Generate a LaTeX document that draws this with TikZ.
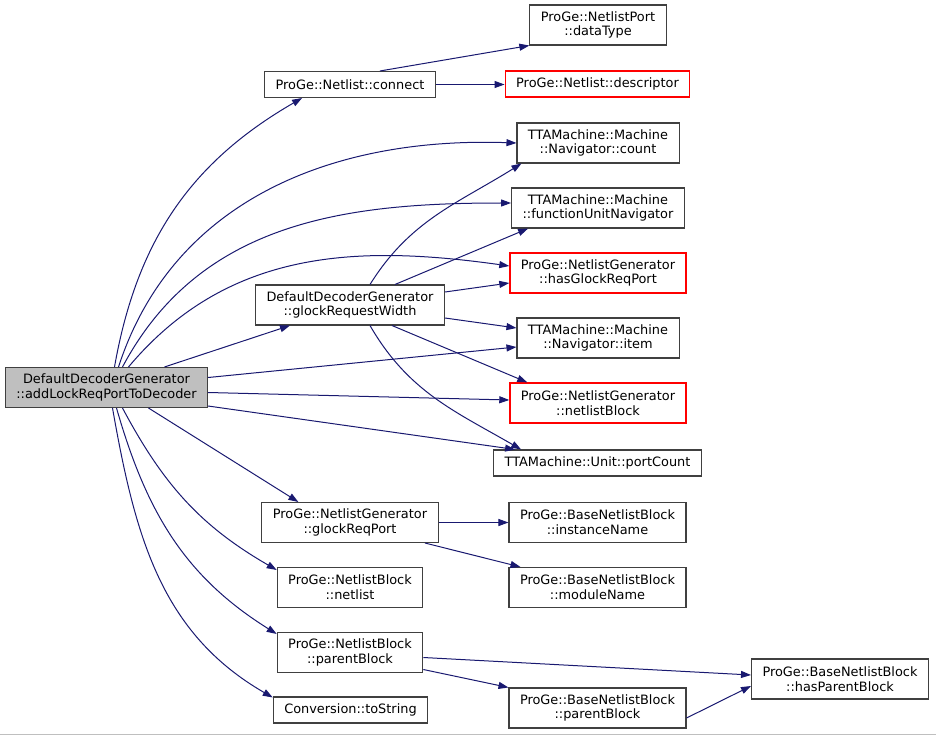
\documentclass[tikz,border=0pt]{standalone}
\usepackage{fontspec}
\setmainfont{DejaVu Sans}
\usepackage{tikz}
\usetikzlibrary{arrows.meta}
\definecolor{edgeblue}{RGB}{25,25,112}
\definecolor{boxgray}{RGB}{191,191,191}
\definecolor{boxline}{RGB}{64,64,64}

\begin{document}
\begin{tikzpicture}[x=1pt,y=-1pt,->,>={Stealth[length=10pt,width=7pt,inset=0pt]},line width=1pt,node distance=65pt]
\tikzstyle{fn}=[draw=boxline,text=black,fill=white,line width=1.05pt,align=center,font=\fontsize{12.9}{14.8}\selectfont,inner xsep=11pt,inner ysep=2pt,minimum height=40pt]
\tikzstyle{oneline}=[minimum height=26pt]
\tikzstyle{undoc}=[fn,draw=red,line width=1.25pt]
\tikzstyle{root}=[fn,fill=boxgray]
\tikzstyle{call}=[draw=edgeblue]
\useasboundingbox (0,0) rectangle (936,735);
\draw[-,gray!50,line width=1pt] (0,734) -- (936,734);
% caller
\node[root] (main) at (106.5,387.5) {DefaultDecoderGenerator\\::addLockReqPortToDecoder};
% second column
\node[fn,oneline] (connect) at (350,84.5) {ProGe::Netlist::connect};
\node[fn] (grw) at (350,305) {DefaultDecoderGenerator\\::glockRequestWidth};
\node[fn] (grp) at (350,522.5) {ProGe::NetlistGenerator\\::glockReqPort};
\node[fn][below of=grp] (netlist) {ProGe::NetlistBlock\\::netlist};
\node[fn][below of=netlist] (parent) {ProGe::NetlistBlock\\::parentBlock};
\node[fn,oneline] (tostr) at (350.5,710) {Conversion::toString};
% third column
\node[fn] (dtype) at (598,25) {ProGe::NetlistPort\\::dataType};
\node[undoc,oneline] (descr) at (597.5,84) {ProGe::Netlist::descriptor};
\node[fn] (count) at (598,143) {TTAMachine::Machine\\::Navigator::count};
\node[fn][below of=count] (funav) {TTAMachine::Machine\\::functionUnitNavigator};
\node[undoc][below of=funav] (hasgrp) {ProGe::NetlistGenerator\\::hasGlockReqPort};
\node[fn][below of=hasgrp] (item) {TTAMachine::Machine\\::Navigator::item};
\node[undoc][below of=item] (nlblock) {ProGe::NetlistGenerator\\::netlistBlock};
\node[fn,oneline] (pcount) at (597.5,463) {TTAMachine::Unit::portCount};
\node[fn] (inst) at (597.5,522.5) {ProGe::BaseNetlistBlock\\::instanceName};
\node[fn][below of=inst] (modname) {ProGe::BaseNetlistBlock\\::moduleName};
\node[fn] (bparent) at (597.5,708) {ProGe::BaseNetlistBlock\\::parentBlock};
% fourth column
\node[fn] (hasparent) at (840,679) {ProGe::BaseNetlistBlock\\::hasParentBlock};

\begin{scope}[every path/.style=call]
% calls of the root
\draw ([xshift=8pt]main.north) to[out=80,in=210] ([xshift=38pt]connect.south west);
\draw ([xshift=12pt]main.north) to[out=72,in=178] (count.west);
\draw ([xshift=16pt]main.north) to[out=62,in=180] ([yshift=5pt]funav.west);
\draw ([xshift=22pt]main.north) to[out=50,in=172] ([yshift=7pt]hasgrp.west);
\draw ([xshift=58pt]main.north) -- ([xshift=-60pt]grw.south);
\draw ([yshift=10pt]main.east) -- ([yshift=-9pt]item.west);
\draw ([yshift=-5pt]main.east) -- ([yshift=3pt]nlblock.west);
\draw ([yshift=2pt]main.south east) -- ([xshift=22pt]pcount.north west);
\draw ([xshift=42pt]main.south) -- ([xshift=37pt]grp.north west);
\draw ([xshift=16pt]main.south) to[out=-62,in=150] ([yshift=-3pt]netlist.north west);
\draw ([xshift=10pt]main.south) to[out=-74,in=148] ([yshift=-2pt]parent.north west);
\draw ([xshift=6pt]main.south) to[out=-80,in=150] ([yshift=-1pt]tostr.north west);
% second level
\draw ([xshift=30pt]connect.north) -- (dtype.south west);
\draw (connect) -- (connect -| descr.west);
\draw ([xshift=20pt]grw.north) to[out=58,in=212] ([xshift=5pt]count.south west);
\draw ([xshift=45pt]grw.north) -- ([xshift=17pt]funav.south west);
\draw ([yshift=13pt]grw.east) -- ([yshift=-10pt]hasgrp.west);
\draw ([yshift=-13pt]grw.east) -- ([yshift=10pt]item.west);
\draw ([xshift=42pt]grw.south) -- ([xshift=18pt]nlblock.north west);
\draw ([xshift=20pt]grw.south) to[out=-60,in=150] ([xshift=28pt]pcount.north west);
\draw (grp) -- (inst);
\draw ([xshift=75pt]grp.south) -- ([xshift=12pt]modname.north west);
\draw ([yshift=-5pt]parent.east) -- ([yshift=4pt]hasparent.west);
\draw ([yshift=-17pt]parent.east) -- (bparent.north west);
\draw ([yshift=-10pt]bparent.east) -- ([yshift=-7pt]hasparent.west);
\end{scope}
\end{tikzpicture}
\end{document}
